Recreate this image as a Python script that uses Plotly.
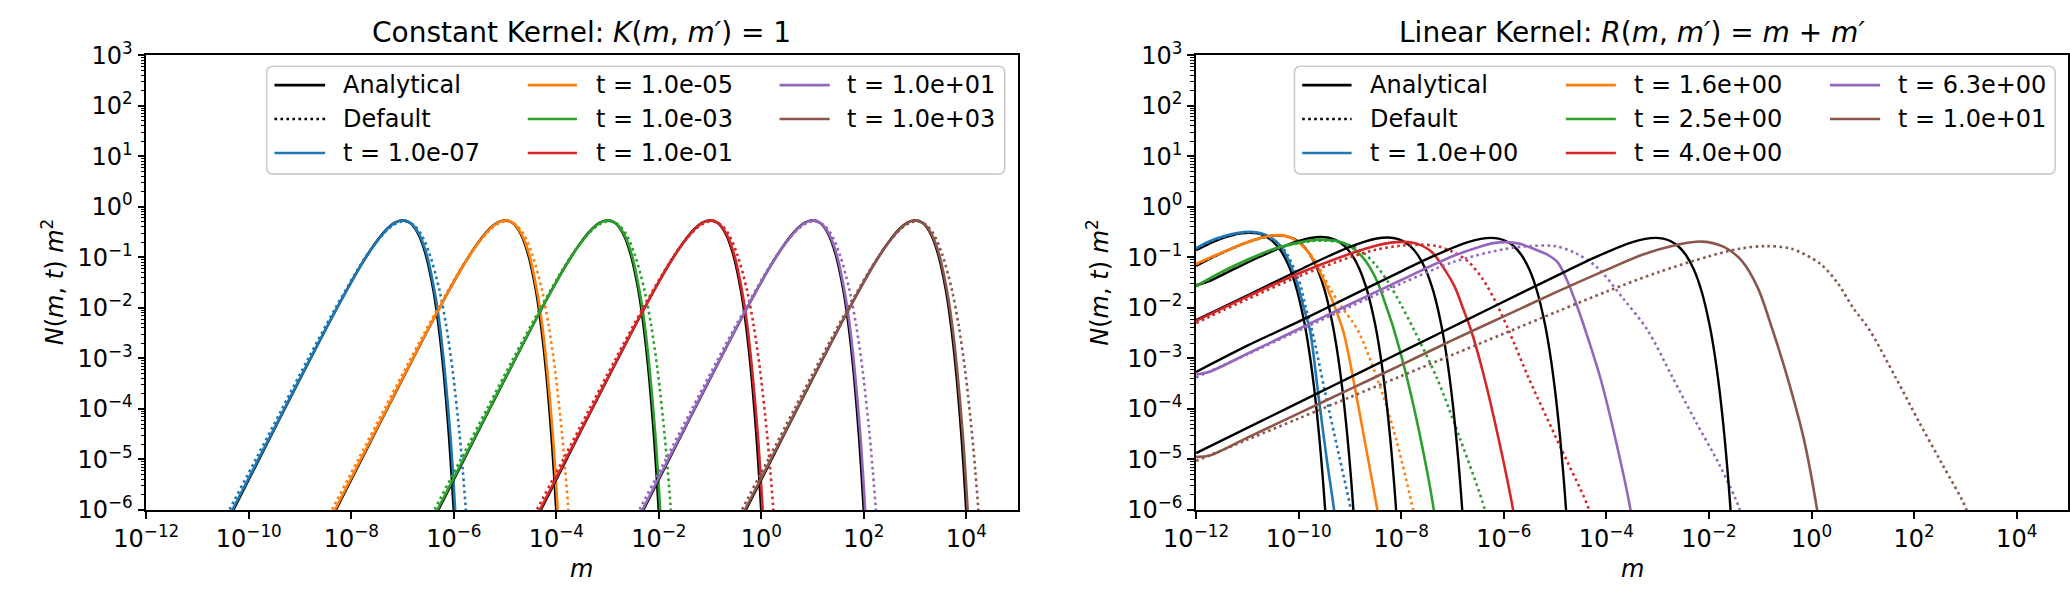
import plotly.graph_objects as go

W, H = 2070, 592
COLORS = ["#1f77b4", "#ff7f0e", "#2ca02c", "#d62728", "#9467bd", "#8c564b"]

# ---------------- Constant kernel panel (values are log10 m, log10 N m^2) ----------------
CK_TIMES = ["1.0e-07", "1.0e-05", "1.0e-03", "1.0e-01", "1.0e+01", "1.0e+03"]

CK_ANA_LOGN = [
    [-6.2, -6.0, -5.001, -4.004, -3.014, -2.043, -1.137, -0.744, -0.434, -0.314, -0.266, -0.324, -0.529, -0.942, -1.649, -2.343, -3.267, -4.483, -5.222, -6.064, -6.437],
] * 6
CK_ANA_LOGM = [
    [-10.40, -10.30, -9.80, -9.30, -8.80, -8.30, -7.80, -7.55, -7.30, -7.15, -7.00, -6.85, -6.70, -6.55, -6.40, -6.30, -6.20, -6.10, -6.05, -6.00, -5.98],
    [-8.40, -8.30, -7.80, -7.30, -6.80, -6.30, -5.80, -5.55, -5.30, -5.15, -5.00, -4.85, -4.70, -4.55, -4.40, -4.30, -4.20, -4.10, -4.05, -4.00, -3.98],
    [-6.40, -6.30, -5.80, -5.30, -4.80, -4.30, -3.80, -3.55, -3.30, -3.15, -3.00, -2.85, -2.70, -2.55, -2.40, -2.30, -2.20, -2.10, -2.05, -2.00, -1.98],
    [-4.40, -4.30, -3.80, -3.30, -2.80, -2.30, -1.80, -1.55, -1.30, -1.15, -1.00, -0.85, -0.70, -0.55, -0.40, -0.30, -0.20, -0.10, -0.05, 0.00, 0.02],
    [-2.40, -2.30, -1.80, -1.30, -0.80, -0.30, 0.20, 0.45, 0.70, 0.85, 1.00, 1.15, 1.30, 1.45, 1.60, 1.70, 1.80, 1.90, 1.95, 2.00, 2.02],
    [-0.40, -0.30, 0.20, 0.70, 1.20, 1.70, 2.20, 2.45, 2.70, 2.85, 3.00, 3.15, 3.30, 3.45, 3.60, 3.70, 3.80, 3.90, 3.95, 4.00, 4.02],
]
CK_NUM_LOGN = CK_ANA_LOGN
CK_NUM_LOGM = [
    [-10.42, -10.32, -9.815, -9.31, -8.805, -8.30, -7.795, -7.54, -7.29, -7.14, -6.99, -6.84, -6.685, -6.53, -6.38, -6.275, -6.175, -6.07, -6.02, -5.97, -5.95],
    [-8.42, -8.32, -7.815, -7.31, -6.805, -6.30, -5.795, -5.54, -5.29, -5.14, -4.99, -4.84, -4.685, -4.53, -4.38, -4.275, -4.175, -4.07, -4.02, -3.97, -3.95],
    [-6.42, -6.32, -5.815, -5.31, -4.805, -4.30, -3.795, -3.54, -3.29, -3.14, -2.99, -2.84, -2.685, -2.53, -2.38, -2.275, -2.175, -2.07, -2.02, -1.97, -1.95],
    [-4.42, -4.32, -3.815, -3.31, -2.805, -2.30, -1.795, -1.54, -1.29, -1.14, -0.99, -0.84, -0.685, -0.53, -0.38, -0.275, -0.175, -0.07, -0.02, 0.03, 0.05],
    [-2.42, -2.32, -1.815, -1.31, -0.805, -0.30, 0.205, 0.46, 0.71, 0.86, 1.01, 1.16, 1.315, 1.47, 1.62, 1.725, 1.825, 1.93, 1.98, 2.03, 2.05],
    [-0.42, -0.32, 0.185, 0.69, 1.195, 1.70, 2.205, 2.46, 2.71, 2.86, 3.01, 3.16, 3.315, 3.47, 3.62, 3.725, 3.825, 3.93, 3.98, 4.03, 4.05],
]
CK_DEF_LOGN = [
    [-6.2, -6.0, -5.001, -4.004, -3.014, -2.043, -1.14, -0.755, -0.45, -0.335, -0.29, -0.345, -0.54, -0.942, -1.649, -2.343, -3.267, -4.483, -5.222, -6.064, -6.437],
] * 6
CK_DEF_LOGM = [
    [-10.48, -10.38, -9.865, -9.355, -8.845, -8.33, -7.815, -7.555, -7.29, -7.13, -6.97, -6.805, -6.64, -6.47, -6.28, -6.15, -6.02, -5.89, -5.825, -5.76, -5.735],
    [-8.48, -8.38, -7.865, -7.355, -6.845, -6.33, -5.815, -5.555, -5.29, -5.13, -4.97, -4.805, -4.64, -4.47, -4.28, -4.15, -4.02, -3.89, -3.825, -3.76, -3.735],
    [-6.48, -6.38, -5.865, -5.355, -4.845, -4.33, -3.815, -3.555, -3.29, -3.13, -2.97, -2.805, -2.64, -2.47, -2.28, -2.15, -2.02, -1.89, -1.825, -1.76, -1.735],
    [-4.48, -4.38, -3.865, -3.355, -2.845, -2.33, -1.815, -1.555, -1.29, -1.13, -0.97, -0.805, -0.64, -0.47, -0.28, -0.15, -0.02, 0.11, 0.175, 0.24, 0.265],
    [-2.48, -2.38, -1.865, -1.355, -0.845, -0.33, 0.185, 0.445, 0.71, 0.87, 1.03, 1.195, 1.36, 1.53, 1.72, 1.85, 1.98, 2.11, 2.175, 2.24, 2.265],
    [-0.48, -0.38, 0.135, 0.645, 1.155, 1.67, 2.185, 2.445, 2.71, 2.87, 3.03, 3.195, 3.36, 3.53, 3.72, 3.85, 3.98, 4.11, 4.175, 4.24, 4.265],
]

# ---------------- Linear kernel panel ----------------
LK_TIMES = ["1.0e+00", "1.6e+00", "2.5e+00", "4.0e+00", "6.3e+00", "1.0e+01"]

LK_ANA_LOGM = [
    [-12.0, -11.654, -11.404, -11.154, -10.954, -10.804, -10.654, -10.504, -10.354, -10.204, -10.054, -9.904, -9.804, -9.704, -9.604, -9.534, -9.484, -9.45],
    [-12.0, -11.6, -11.1, -10.85, -10.6, -10.4, -10.25, -10.1, -9.95, -9.8, -9.65, -9.5, -9.35, -9.25, -9.15, -9.05, -8.98, -8.93, -8.90],
    [-12.0, -11.765, -11.265, -10.765, -10.265, -10.015, -9.765, -9.565, -9.415, -9.265, -9.115, -8.965, -8.815, -8.665, -8.515, -8.415, -8.315, -8.215, -8.145, -8.095, -8.07],
    [-12.0, -10.975, -9.975, -9.475, -8.975, -8.725, -8.475, -8.275, -8.125, -7.975, -7.825, -7.675, -7.525, -7.375, -7.225, -7.125, -7.025, -6.925, -6.855, -6.805, -6.78],
    [-12.0, -11.0, -9.95, -8.95, -7.95, -7.45, -6.95, -6.70, -6.45, -6.25, -6.10, -5.95, -5.80, -5.65, -5.50, -5.35, -5.20, -5.10, -5.00, -4.90, -4.83, -4.78, -4.75],
    [-12.0, -10.743, -9.743, -8.743, -7.743, -6.743, -5.743, -4.743, -4.243, -3.743, -3.493, -3.243, -3.043, -2.893, -2.743, -2.593, -2.443, -2.293, -2.143, -1.993, -1.893, -1.793, -1.693, -1.623, -1.573, -1.55],
]
LK_ANA_LOGN = [
    [-0.86, -0.689, -0.598, -0.533, -0.514, -0.528, -0.580, -0.684, -0.862, -1.145, -1.575, -2.213, -2.795, -3.542, -4.494, -5.31, -5.984, -6.4],
    [-1.17, -0.961, -0.741, -0.650, -0.585, -0.565, -0.580, -0.632, -0.736, -0.914, -1.197, -1.627, -2.265, -2.847, -3.594, -4.546, -5.362, -6.036, -6.4],
    [-1.55, -1.48, -1.235, -0.995, -0.774, -0.683, -0.618, -0.598, -0.613, -0.665, -0.769, -0.947, -1.23, -1.66, -2.298, -2.88, -3.627, -4.579, -5.395, -6.069, -6.4],
    [-2.24, -1.742, -1.246, -1.005, -0.785, -0.694, -0.629, -0.609, -0.624, -0.676, -0.78, -0.958, -1.241, -1.671, -2.309, -2.891, -3.638, -4.59, -5.406, -6.08, -6.4],
    [-3.27, -2.75, -2.249, -1.749, -1.253, -1.012, -0.792, -0.701, -0.636, -0.616, -0.631, -0.683, -0.787, -0.965, -1.248, -1.678, -2.316, -2.898, -3.645, -4.597, -5.413, -6.087, -6.45],
    [-4.877, -4.249, -3.749, -3.249, -2.749, -2.249, -1.749, -1.253, -1.012, -0.792, -0.701, -0.636, -0.616, -0.631, -0.683, -0.787, -0.965, -1.248, -1.678, -2.316, -2.898, -3.645, -4.597, -5.413, -6.087, -6.4],
]

LK_NUM_LOGM = [
    [-12.0, -11.73, -11.41, -11.2, -10.96, -10.8, -10.64, -10.5, -10.38, -10.25, -10.14, -10.03, -9.90, -9.78, -9.62, -9.46, -9.31, -9.28],
    [-12.0, -11.6, -11.1, -10.85, -10.6, -10.4, -10.25, -10.1, -9.95, -9.8, -9.62, -9.44, -9.27, -9.12, -8.94, -8.7, -8.465, -8.42],
    [-12.0, -11.5, -11.0, -10.5, -10.0, -9.75, -9.5, -9.25, -9.0, -8.75, -8.6, -8.46, -8.3, -8.14, -7.89, -7.6, -7.365, -7.33],
    [-12.0, -11.0, -10.0, -9.0, -8.5, -8.2, -7.95, -7.7, -7.4, -7.18, -6.95, -6.8, -6.64, -6.4, -6.1, -5.82, -5.78],
    [-12.0, -11.75, -11.0, -10.0, -9.0, -8.0, -7.0, -6.5, -6.2, -5.97, -5.7, -5.4, -5.15, -4.95, -4.75, -4.56, -4.37, -4.12, -3.8, -3.53, -3.49],
    [-12.0, -11.75, -11.0, -10.0, -9.0, -8.0, -7.0, -6.0, -5.0, -4.0, -3.3, -2.7, -2.13, -1.7, -1.36, -1.05, -0.76, -0.47, -0.15, 0.108, 0.15],
]
LK_NUM_LOGN = [
    [-0.82, -0.68, -0.57, -0.52, -0.495, -0.51, -0.56, -0.64, -0.75, -0.95, -1.2, -1.5, -2.0, -2.44, -3.69, -4.94, -6.0, -6.3],
    [-1.13, -0.95, -0.74, -0.65, -0.585, -0.56, -0.58, -0.64, -0.75, -0.92, -1.22, -1.62, -2.05, -2.5, -3.38, -4.7, -6.0, -6.3],
    [-1.57, -1.29, -1.05, -0.84, -0.71, -0.665, -0.655, -0.68, -0.78, -1.0, -1.22, -1.5, -1.95, -2.44, -3.38, -4.7, -6.0, -6.3],
    [-2.26, -1.78, -1.32, -0.93, -0.77, -0.71, -0.695, -0.73, -0.9, -1.2, -1.6, -2.0, -2.44, -3.3, -4.6, -6.0, -6.3],
    [-3.32, -3.27, -2.91, -2.42, -1.93, -1.45, -0.98, -0.8, -0.72, -0.70, -0.73, -0.84, -0.95, -1.1, -1.5, -2.0, -2.57, -3.38, -4.7, -6.0, -6.3],
    [-4.95, -4.93, -4.57, -4.09, -3.61, -3.13, -2.64, -2.17, -1.70, -1.25, -0.95, -0.77, -0.69, -0.8, -1.07, -1.6, -2.44, -3.38, -4.6, -6.0, -6.3],
]

LK_DEF_LOGM = [
    [-12.0, -11.73, -11.41, -11.2, -10.96, -10.8, -10.64, -10.5, -10.36, -10.22, -10.1, -9.98, -9.86, -9.74, -9.5, -9.24, -8.98, -8.93],
    [-12.0, -11.6, -11.1, -10.85, -10.6, -10.4, -10.25, -10.1, -9.95, -9.8, -9.6, -9.4, -9.15, -8.85, -8.4, -8.1, -7.77, -7.72],
    [-12.0, -11.5, -11.0, -10.5, -10.0, -9.75, -9.5, -9.25, -9.0, -8.75, -8.5, -8.25, -8.0, -7.75, -7.31, -6.85, -6.37, -6.32],
    [-12.0, -11.0, -10.0, -9.0, -8.5, -8.0, -7.63, -7.3, -7.0, -6.7, -6.4, -6.15, -5.906, -5.52, -4.9, -4.338, -4.29],
    [-12.0, -11.0, -10.0, -9.0, -8.0, -7.0, -6.0, -5.5, -5.0, -4.6, -4.18, -3.67, -3.2, -2.71, -2.26, -1.8, -1.4, -1.35],
    [-12.0, -11.0, -10.0, -9.0, -8.0, -7.0, -6.0, -4.95, -4.0, -3.0, -2.0, -1.4, -0.9, -0.4, 0.17, 0.5, 0.81, 1.13, 1.64, 2.09, 2.55, 3.02, 3.07],
]
LK_DEF_LOGN = [
    [-0.83, -0.69, -0.58, -0.53, -0.505, -0.52, -0.57, -0.65, -0.76, -0.95, -1.2, -1.5, -2.0, -2.44, -3.6, -4.8, -6.0, -6.3],
    [-1.14, -0.96, -0.75, -0.66, -0.595, -0.575, -0.59, -0.64, -0.74, -0.9, -1.2, -1.6, -2.0, -2.44, -3.6, -4.6, -6.0, -6.3],
    [-1.58, -1.30, -1.06, -0.85, -0.72, -0.68, -0.67, -0.69, -0.76, -0.9, -1.15, -1.5, -1.95, -2.44, -3.38, -4.6, -6.0, -6.3],
    [-2.30, -1.83, -1.38, -1.0, -0.85, -0.77, -0.75, -0.78, -0.89, -1.08, -1.45, -1.9, -2.443, -3.38, -4.75, -6.0, -6.3],
    [-3.38, -2.92, -2.45, -1.98, -1.52, -1.1, -0.84, -0.78, -0.78, -0.92, -1.2, -1.82, -2.44, -3.38, -4.25, -5.1, -6.0, -6.3],
    [-5.03, -4.61, -4.19, -3.77, -3.35, -2.93, -2.51, -2.07, -1.68, -1.3, -0.98, -0.83, -0.78, -0.83, -1.13, -1.5, -2.0, -2.44, -3.38, -4.25, -5.1, -6.0, -6.3],
]

# ---------------- ticks ----------------
X_TICK_EXP = [-12, -10, -8, -6, -4, -2, 0, 2, 4]
Y_TICK_EXP = [-6, -5, -4, -3, -2, -1, 0, 1, 2, 3]


def sup(e):
    return "10<sup>" + str(e).replace("-", "\u2212") + "</sup>"


X_TICK_TEXT = [sup(e) for e in X_TICK_EXP]
Y_TICK_TEXT = [sup(e) for e in Y_TICK_EXP]

# ---------------- layout geometry (pixels) ----------------
PANELS = [
    dict(x0=115.2, x1=1001.0, xa="x", ya="y"),
    dict(x0=1182.5, x1=2069.0, xa="x2", ya="y2"),
]
PY0, PY1 = 39.3, 520.0
FONT = "DejaVu Sans"

LW_SOLID = 2.6
LW_BLACK = 2.4
DOT = "2.6px,3.4px"

fig = go.Figure()


def lin(v):
    return [10 ** a for a in v]


def add(lx, ly, color, width, dash, xa, ya):
    fig.add_trace(go.Scatter(
        x=lin(lx), y=lin(ly), mode="lines", xaxis=xa, yaxis=ya,
        line=dict(color=color, width=width, dash=dash, shape="spline", smoothing=0.9),
        showlegend=False, hoverinfo="skip"))


for i in range(6):
    add(CK_ANA_LOGM[i], CK_ANA_LOGN[i], "black", LW_BLACK, "solid", "x", "y")
    add(CK_DEF_LOGM[i], CK_DEF_LOGN[i], COLORS[i], LW_SOLID, DOT, "x", "y")
    add(CK_NUM_LOGM[i], CK_NUM_LOGN[i], COLORS[i], LW_SOLID, "solid", "x", "y")

for i in range(6):
    add(LK_ANA_LOGM[i], LK_ANA_LOGN[i], "black", LW_BLACK, "solid", "x2", "y2")
    add(LK_DEF_LOGM[i], LK_DEF_LOGN[i], COLORS[i], LW_SOLID, DOT, "x2", "y2")
    add(LK_NUM_LOGM[i], LK_NUM_LOGN[i], COLORS[i], LW_SOLID, "solid", "x2", "y2")

minor_y = [k * 10.0 ** e for e in range(-6, 3) for k in range(2, 10)]


def xaxis(p, anchor):
    return dict(type="log", range=[-12, 5], domain=[p["x0"] / W, p["x1"] / W], anchor=anchor,
                tickvals=[10.0 ** e for e in X_TICK_EXP], ticktext=X_TICK_TEXT,
                ticks="outside", ticklen=7, tickwidth=1.6, tickcolor="black",
                showline=True, linecolor="black", linewidth=1.6, mirror=True,
                showgrid=False, zeroline=False,
                tickfont=dict(family=FONT, size=24, color="black"))


def yaxis(anchor):
    return dict(type="log", range=[-6, 3], domain=[1 - PY1 / H, 1 - PY0 / H], anchor=anchor,
                tickvals=[10.0 ** e for e in Y_TICK_EXP], ticktext=Y_TICK_TEXT,
                ticks="outside", ticklen=7, tickwidth=1.6, tickcolor="black",
                minor=dict(tickvals=minor_y, ticks="outside", ticklen=4, tickwidth=1.2,
                           tickcolor="black", showgrid=False),
                showline=True, linecolor="black", linewidth=1.6, mirror=True,
                showgrid=False, zeroline=False,
                tickfont=dict(family=FONT, size=24, color="black"))


fig.update_layout(
    width=W, height=H, margin=dict(l=0, r=0, t=0, b=0), autosize=False,
    paper_bgcolor="white", plot_bgcolor="white",
    xaxis=xaxis(PANELS[0], "y"), yaxis=yaxis("x"),
    xaxis2=xaxis(PANELS[1], "y2"), yaxis2=yaxis("x2"),
    showlegend=False,
)

ann = []
shapes = []


def px(x):
    return x / W


def py(y):
    return 1 - y / H


TITLES = ["Constant Kernel: <i>K</i>(<i>m</i>, <i>m\u2032</i>) = 1",
          "Linear Kernel: <i>R</i>(<i>m</i>, <i>m\u2032</i>) = <i>m</i> + <i>m\u2032</i>"]
YLABEL = "<i>N</i>(<i>m</i>, <i>t</i>) <i>m</i><sup>2</sup>"
XLABEL = "<i>m</i>"
YLAB_X = [20, 1082]

for k, p in enumerate(PANELS):
    cx = (p["x0"] + p["x1"]) / 2
    ann.append(dict(text=TITLES[k], x=px(cx), y=py(15), xref="paper", yref="paper",
                    showarrow=False, xanchor="center", yanchor="middle",
                    font=dict(family=FONT, size=28, color="black")))
    ann.append(dict(text=XLABEL, x=px(cx), y=py(582), xref="paper", yref="paper",
                    showarrow=False, xanchor="center", yanchor="middle",
                    font=dict(family=FONT, size=24, color="black")))
    ann.append(dict(text=YLABEL, x=px(YLAB_X[k]), y=py((PY0 + PY1) / 2), xref="paper", yref="paper",
                    showarrow=False, xanchor="center", yanchor="middle", textangle=-90,
                    font=dict(family=FONT, size=24, color="black")))

# ---------------- legends (drawn) ----------------
LEG_BOX = [(237.6, 51, 988, 165), (1282.5, 51, 2056, 165)]
LEG_ROWS = [71, 106.7, 142.7]
LEG_COLS = [
    [(245.5, 297, 315.5), (503, 553, 572), (759, 810, 828)],
    [(1290.4, 1340.6, 1359.8), (1558.4, 1609.3, 1627.7), (1827, 1878, 1896.4)],
]
TIMES = [CK_TIMES, LK_TIMES]


def rounded(x0, y0, x1, y1, r=7):
    X = lambda v: f"{px(v):.6f}"
    Y = lambda v: f"{py(v):.6f}"
    s = (f"M {X(x0 + r)},{Y(y0)} L {X(x1 - r)},{Y(y0)} Q {X(x1)},{Y(y0)} {X(x1)},{Y(y0 + r)} "
         f"L {X(x1)},{Y(y1 - r)} Q {X(x1)},{Y(y1)} {X(x1 - r)},{Y(y1)} "
         f"L {X(x0 + r)},{Y(y1)} Q {X(x0)},{Y(y1)} {X(x0)},{Y(y1 - r)} "
         f"L {X(x0)},{Y(y0 + r)} Q {X(x0)},{Y(y0)} {X(x0 + r)},{Y(y0)} Z")
    return s


for k in range(2):
    b = LEG_BOX[k]
    shapes.append(dict(type="path", path=rounded(*b), xref="paper", yref="paper",
                       line=dict(color="rgba(204,204,204,1)", width=1.6),
                       fillcolor="rgba(255,255,255,0.8)", layer="above"))
    entries = [("Analytical", "black", "solid"), ("Default", "black", DOT)]
    entries += [("t = " + t, COLORS[i], "solid") for i, t in enumerate(TIMES[k])]
    for j, (label, color, dash) in enumerate(entries):
        col, row = divmod(j, 3)
        lx0, lx1, tx = LEG_COLS[k][col]
        yy = LEG_ROWS[row]
        shapes.append(dict(type="line", xref="paper", yref="paper",
                           x0=px(lx0), x1=px(lx1), y0=py(yy), y1=py(yy),
                           line=dict(color=color, width=LW_SOLID, dash=dash), layer="above"))
        ann.append(dict(text=label, x=px(tx - 2), y=py(yy), xref="paper", yref="paper",
                        showarrow=False, xanchor="left", yanchor="middle",
                        font=dict(family=FONT, size=24, color="black")))

fig.update_layout(annotations=ann, shapes=shapes)
fig.write_html("out.html")
